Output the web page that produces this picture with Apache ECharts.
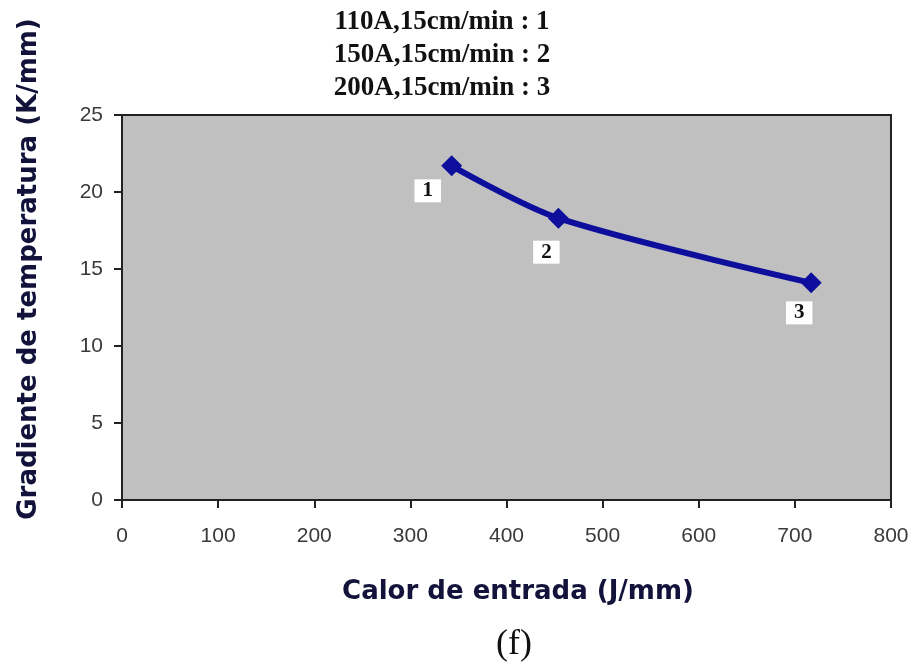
<!DOCTYPE html>
<html>
<head>
<meta charset="utf-8">
<script src="https://cdn.jsdelivr.net/npm/echarts@6/dist/echarts.min.js"></script>
<style>
  html, body { margin: 0; padding: 0; background: #fff; }
  #chart { width: 917px; height: 668px; }
</style>
</head>
<body>
<div id="chart"></div>
<script>
// Heat input (J/mm) vs temperature gradient (K/mm)
const heatInput = [343, 454, 717];
const gradient = [21.7, 18.3, 14.1];
const pointLabels = ['1', '2', '3'];
const conditionLines = ['110A,15cm/min : 1', '150A,15cm/min : 2', '200A,15cm/min : 3'];
const xTicks = [0, 100, 200, 300, 400, 500, 600, 700, 800];
const yTicks = [0, 5, 10, 15, 20, 25];

// per-point label offsets (label box sits below-left of each marker)
const labelOffsets = [[-24, 25], [-12, 34], [-12, 30]];

const chart = echarts.init(document.getElementById('chart'));

const seriesData = heatInput.map((x, i) => ({
  value: [x, gradient[i]],
  label: {
    show: true,
    formatter: pointLabels[i],
    position: 'inside',
    offset: labelOffsets[i],
    fontFamily: 'Liberation Serif',
    fontWeight: 'bold',
    fontSize: 21,
    lineHeight: 21,
    color: '#111',
    backgroundColor: '#ffffff',
    padding: [2, 8, 0, 8]
  }
}));

chart.setOption({
  animation: false,
  backgroundColor: '#ffffff',
  grid: { left: 122, top: 115, right: 26, bottom: 168, show: true, backgroundColor: '#c0c0c0', borderColor: '#222', borderWidth: 2 },
  xAxis: {
    type: 'value', min: xTicks[0], max: xTicks[xTicks.length - 1], interval: 100,
    axisLine: { show: true, onZero: false, lineStyle: { color: '#222', width: 2 } },
    axisTick: { show: true, length: 8, lineStyle: { color: '#222', width: 2 } },
    axisLabel: { margin: 26, fontFamily: 'Liberation Sans', fontSize: 21, color: '#3a3a3a' },
    splitLine: { show: false }
  },
  yAxis: {
    type: 'value', min: yTicks[0], max: yTicks[yTicks.length - 1], interval: 5,
    axisLine: { show: true, onZero: false, lineStyle: { color: '#222', width: 2 } },
    axisTick: { show: true, length: 8, lineStyle: { color: '#222', width: 2 } },
    axisLabel: { margin: 19, fontFamily: 'Liberation Sans', fontSize: 21, color: '#3a3a3a' },
    splitLine: { show: false }
  },
  series: [{
    type: 'line',
    data: seriesData,
    smooth: 0.3,
    symbol: 'diamond',
    symbolSize: 21,
    itemStyle: { color: '#0e0e9c' },
    lineStyle: { color: '#0e0e9c', width: 6 },
    z: 3
  }],
  graphic: [
    ...conditionLines.map((t, i) => ({
      type: 'text',
      x: 442, y: 22 + i * 33,
      style: { text: t, fontFamily: 'Liberation Serif', fontSize: 27, fill: '#111', align: 'center', verticalAlign: 'middle', fontWeight: 'bold' }
    })),
    {
      type: 'text', x: 29, y: 269, rotation: Math.PI / 2,
      style: { text: 'Gradiente de temperatura (K/mm)', fontFamily: 'DejaVu Sans', fontWeight: 'bold', fontSize: 26, fill: '#12123a', align: 'center', verticalAlign: 'middle' }
    },
    {
      type: 'text', x: 518, y: 592,
      style: { text: 'Calor de entrada (J/mm)', fontFamily: 'DejaVu Sans', fontWeight: 'bold', fontSize: 26, fill: '#12123a', align: 'center', verticalAlign: 'middle' }
    },
    {
      type: 'text', x: 514, y: 645,
      style: { text: '(f)', fontFamily: 'Liberation Serif', fontSize: 36, fill: '#111', align: 'center', verticalAlign: 'middle' }
    }
  ]
});
</script>
</body>
</html>
